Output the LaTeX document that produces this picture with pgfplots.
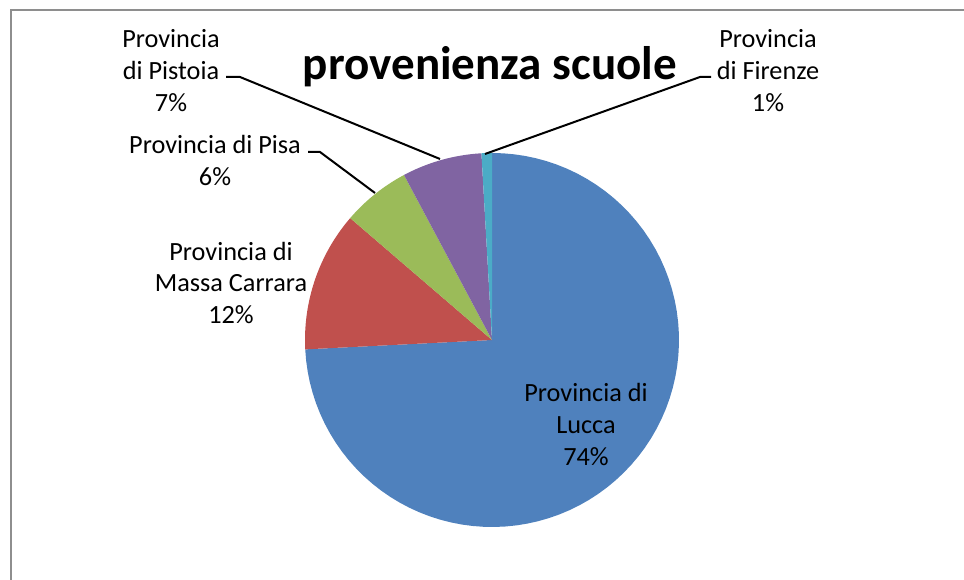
\documentclass[border=0pt]{standalone}
\usepackage{pgfplots}
\usepackage{pgfplotstable}
\pgfplotsset{compat=1.18}
\usepackage{fontspec}
\setmainfont{Carlito}
\definecolor{cLucca}{HTML}{4F81BD}
\definecolor{cMassa}{HTML}{C0504D}
\definecolor{cPisa}{HTML}{9BBB59}
\definecolor{cPistoia}{HTML}{8064A2}
\definecolor{cFirenze}{HTML}{4BACC6}
\definecolor{frame}{HTML}{8E8E8E}

\pgfplotstableread{
name value
Lucca 74.2
Massa 12.1
Pisa 5.9
Pistoia 6.9
Firenze 0.9
}\piedata

\pgfplotstablegetelem{0}{value}\of\piedata \pgfmathsetmacro{\vA}{\pgfplotsretval}
\pgfplotstablegetelem{1}{value}\of\piedata \pgfmathsetmacro{\vB}{\pgfplotsretval}
\pgfplotstablegetelem{2}{value}\of\piedata \pgfmathsetmacro{\vC}{\pgfplotsretval}
\pgfplotstablegetelem{3}{value}\of\piedata \pgfmathsetmacro{\vD}{\pgfplotsretval}
\pgfplotstablegetelem{4}{value}\of\piedata \pgfmathsetmacro{\vE}{\pgfplotsretval}
\pgfmathsetmacro{\aA}{90}
\pgfmathsetmacro{\aB}{\aA-3.6*\vA}
\pgfmathsetmacro{\aC}{\aB-3.6*\vB}
\pgfmathsetmacro{\aD}{\aC-3.6*\vC}
\pgfmathsetmacro{\aE}{\aD-3.6*\vD}
\pgfmathsetmacro{\aF}{\aE-3.6*\vE}

\newcommand{\pieslice}[3]{%
  \fill[#1] (axis cs:492,240) -- plot[domain=#2:#3, samples=80, variable=\t]
    (axis cs:{492+187*cos(\t)},{240+187*sin(\t)}) -- cycle;}

\begin{document}
\begin{tikzpicture}[lbl/.style={font=\fontsize{19.7}{24}\selectfont, align=center, text=black}]
\begin{axis}[
  width=723pt, height=435pt, scale only axis,
  xmin=0, xmax=964, ymin=0, ymax=580,
  hide axis, clip=false,
]
\pieslice{cLucca}{\aA}{\aB}
\pieslice{cMassa}{\aB}{\aC}
\pieslice{cPisa}{\aC}{\aD}
\pieslice{cPistoia}{\aD}{\aE}
\pieslice{cFirenze}{\aE}{\aF}

% frame
\draw[frame, line width=1.8pt] (axis cs:11,0) -- (axis cs:11,570) -- (axis cs:964,570);

% title
\node[font=\fontsize{35.3}{40}\selectfont\bfseries] at (axis cs:490,513) {provenienza scuole};

% labels
\node[lbl] at (axis cs:586,156) {Provincia di\\Lucca\\74\%};
\node[lbl] at (axis cs:231,297) {Provincia di\\Massa Carrara\\12\%};
\node[lbl] at (axis cs:215,419) {Provincia di Pisa\\6\%};
\node[lbl] at (axis cs:171,509) {Provincia\\di Pistoia\\7\%};
\node[lbl] at (axis cs:768,509) {Provincia\\di Firenze\\1\%};

% leader lines
\draw[black, line width=1.5pt] (axis cs:226,503) -- (axis cs:240,503) -- (axis cs:440,421);
\draw[black, line width=1.5pt] (axis cs:308,428) -- (axis cs:320,428) -- (axis cs:375,387);
\draw[black, line width=1.5pt] (axis cs:711,503) -- (axis cs:700,503) -- (axis cs:485,426);
\end{axis}
\pgfresetboundingbox
\useasboundingbox (0,0) rectangle (723pt,435pt);
\end{tikzpicture}
\end{document}
